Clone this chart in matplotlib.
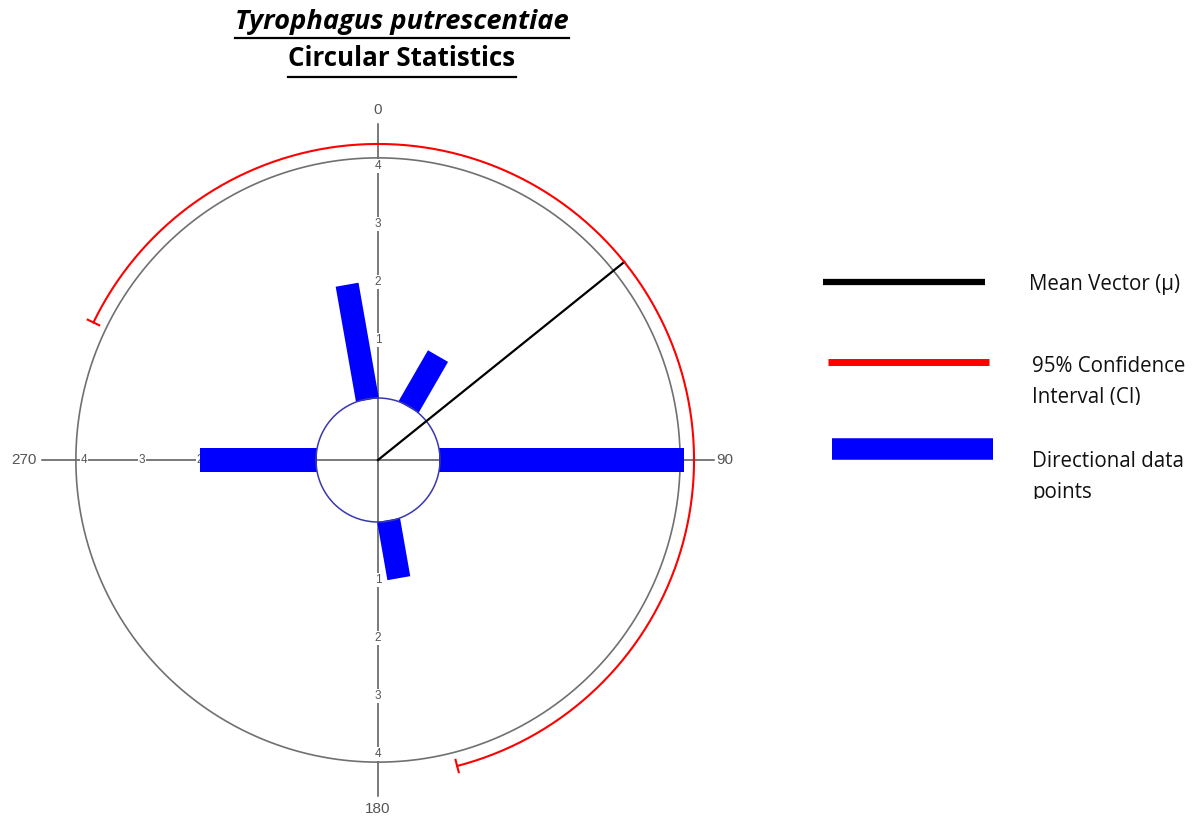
import numpy as np
import matplotlib
matplotlib.use('Agg')
import matplotlib.pyplot as plt
from matplotlib.lines import Line2D
from matplotlib.transforms import Bbox, TransformedBbox

#==============================================================================
# data
#==============================================================================

# directions of the data points (deg, clockwise from north) and their counts
directions = [90, 270, 350, 30, 170]
counts     = [4.2, 2.0, 2.0, 1.0, 1.0]

mean_angle = 51.2            # mean vector direction (deg)
ci_low     = 295.8           # 95% CI bounds (deg)
ci_high    = 165.5

ring_ticks  = [1, 2, 3, 4]
axis_labels = ['0', '90', '180', '270']

legend_labels = [['Mean Vector (\u03bc)'],
                 ['95% Confidence', 'Interval (CI)'],
                 ['Directional data', 'points']]

#==============================================================================
# style
#==============================================================================

W, H = 1200, 816
PX = 58.0                    # pixels per count
CX, CY = 378, 460            # plot centre in pixels
R0 = 62 / PX                 # radius of inner circle
R_OUT = R0 + 4.14            # outer ring
R_CI = R0 + 4.38             # confidence arc
R_AX = 336 / PX              # half length of the axis lines
BAR_W = 0.40

grey = '#555555'
blue = '#0000ff'
red = '#ff0000'

font_txt = ['Open Sans', 'DejaVu Sans']
font_ax = ['Liberation Sans', 'DejaVu Sans']


def polar_xy(ang, r):
    a = np.deg2rad(ang)
    return r * np.sin(a), r * np.cos(a)


def fig_xy(x, y):
    # figure fraction from pixel position (origin top left)
    return x / W, 1 - y / H


#==============================================================================
# plot
#==============================================================================

fig = plt.figure(figsize=(W / 100, H / 100), dpi=100)
ax = fig.add_axes([0, 0, 1, 1])
ax.set_xlim(-CX / PX, (W - CX) / PX)
ax.set_ylim(-(H - CY) / PX, CY / PX)
ax.axis('off')

# axes through the centre
ax.plot([0, 0], [-R_AX, R_AX], color=grey, lw=1.1, zorder=1)
ax.plot([-R_AX, R_AX], [0, 0], color=grey, lw=1.1, zorder=1)

# count labels along the axes
for ang in [0, 90, 180, 270]:
    for k in ring_ticks:
        x, y = polar_xy(ang, R0 + k)
        ax.text(x, y, str(k), ha='center', va='center', fontsize=8.5,
                color=grey, family=font_ax, zorder=2,
                bbox=dict(boxstyle='square,pad=0.05', fc='white', ec='none'))

# compass labels
lab_r = [(0, 350), (90, 338), (180, 349), (270, 341)]
for lab, (ang, rp) in zip(axis_labels, lab_r):
    x, y = polar_xy(ang, rp / PX)
    ha = {0: 'center', 90: 'left', 180: 'center', 270: 'right'}[ang]
    ax.text(x, y, lab, ha=ha, va='center', fontsize=11, color=grey,
            family=font_ax, zorder=2)

# outer ring
t = np.linspace(0, 360, 721)
ax.plot(*polar_xy(t, R_OUT), color='#707070', lw=1.2, zorder=2)

# directional data bars
for ang, n in zip(directions, counts):
    a = np.deg2rad(ang)
    u = np.array([np.sin(a), np.cos(a)])
    p = np.array([np.cos(a), -np.sin(a)])
    r_base = np.sqrt(R0 ** 2 - (BAR_W / 2) ** 2)
    r_end = R0 + n
    corners = np.array([r_base * u + BAR_W / 2 * p, r_end * u + BAR_W / 2 * p,
                        r_end * u - BAR_W / 2 * p, r_base * u - BAR_W / 2 * p])
    ax.fill(corners[:, 0], corners[:, 1], color=blue, lw=0, zorder=3)

# inner circle
ax.plot(*polar_xy(t, R0), color='#3838b0', lw=1.1, zorder=4)

# mean vector
mx, my = polar_xy(mean_angle, R_CI)
ax.plot([0, mx], [0, my], color='black', lw=1.6, zorder=5)

# confidence interval arc with end bars
arc = np.linspace(ci_low, ci_high + 360, 400)
ax.plot(*polar_xy(arc, R_CI), color=red, lw=1.5, zorder=5)
for ang in [ci_low, ci_high]:
    x0, y0 = polar_xy(ang, R_CI - 0.11)
    x1, y1 = polar_xy(ang, R_CI + 0.11)
    ax.plot([x0, x1], [y0, y1], color=red, lw=1.5, zorder=5)

# legend
leg_lines = [(823, 985, 282, 'black', 4.5),
             (828, 989, 362, red, 5.0),
             (832, 993, 449, blue, 15.5)]
for x0, x1, y, c, lw in leg_lines:
    (fx0, fy), (fx1, _) = fig_xy(x0, y), fig_xy(x1, y)
    fig.add_artist(Line2D([fx0, fx1], [fy, fy], color=c, lw=lw,
                          solid_capstyle='butt'))

# text boxes, cut off at the bottom
leg_pos = [(1029, 290, 816), (1032, 372, 405), (1032, 467, 499)]
for lines, (x, y, clip_y) in zip(legend_labels, leg_pos):
    clip = TransformedBbox(Bbox.from_extents(0, 1 - clip_y / H, 1, 1),
                           fig.transFigure)
    for i, s in enumerate(lines):
        fx, fy = fig_xy(x, y + 31 * i)
        txt = fig.text(fx, fy, s, ha='left', va='baseline', fontsize=14.8,
                       family=font_txt, color='#111111')
        txt.set_clip_box(clip)
        txt.set_clip_on(True)

# titles, underlined
titles = [('Tyrophagus putrescentiae', 'italic', 19.6, 29, 38),
          ('Circular Statistics', 'normal', 18.6, 66, 77)]
renderer = fig.canvas.get_renderer()
for s, style, fs, y, uy in titles:
    fx, fy = fig_xy(402, y)
    tt = fig.text(fx, fy, s, ha='center', va='baseline', fontsize=fs,
                  fontweight='bold', style=style, family=font_txt)
    bb = tt.get_window_extent(renderer)
    fu = 1 - uy / H
    fig.add_artist(Line2D([bb.x0 / W, bb.x1 / W], [fu, fu], color='black',
                          lw=1.6))

fig.savefig('out.png', dpi=100)
